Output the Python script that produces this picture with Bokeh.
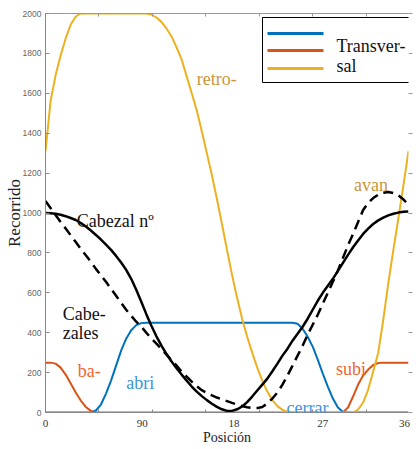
from bokeh.plotting import figure
from bokeh.models import (Range1d, LinearAxis, FixedTicker, Label, BoxAnnotation, Arrow)
from bokeh.embed import file_html
from bokeh.resources import INLINE

# ---- data ----
angle_deg = list(range(0, 365, 5))

transversal = [0, 0, 0, 0, 0, 0, 0, 0, 0, 0,
               10, 40, 95, 160, 235, 310, 370, 412, 438, 448,
               450, 450, 450, 450, 450, 450, 450, 450, 450, 450,
               450, 450, 450, 450, 450, 450, 450, 450, 450, 450,
               450, 450, 450, 450, 450, 450, 450, 450, 450, 450,
               445, 420, 380, 330, 265, 195, 130, 70, 25, 3,
               0, 0, 0, 0, 0, 0, 0, 0, 0, 0,
               0, 0, 0]

vertical = [250, 250, 245, 225, 190, 145, 100, 60, 28, 8,
            0, 0, 0, 0, 0, 0, 0, 0, 0, 0,
            0, 0, 0, 0, 0, 0, 0, 0, 0, 0,
            0, 0, 0, 0, 0, 0, 0, 0, 0, 0,
            0, 0, 0, 0, 0, 0, 0, 0, 0, 0,
            0, 0, 0, 0, 0, 0, 0, 0, 0, 0,
            25, 80, 140, 185, 215, 238, 248, 250, 250, 250,
            250, 250, 250]

longitudinal = [1310, 1560, 1690, 1790, 1875, 1945, 1985, 2000, 2000, 2000,
                2000, 2000, 2000, 2000, 2000, 2000, 2000, 2000, 2000, 2000,
                2000, 1995, 1980, 1958, 1925, 1885, 1830, 1770, 1685, 1600,
                1515, 1410, 1300, 1190, 1070, 945, 815, 690, 575, 470,
                380, 300, 225, 160, 105, 62, 32, 13, 4, 0,
                0, 0, 0, 0, 0, 0, 0, 0, 0, 0,
                0, 0, 15, 50, 115, 205, 300, 465, 650, 815,
                975, 1140, 1310]

cabezal = [1000, 999, 996, 991, 984, 975, 965, 950, 932, 912,
           890, 867, 842, 815, 785, 752, 715, 670, 615, 555,
           493, 435, 382, 335, 293, 256, 222, 190, 160, 130,
           105, 82, 62, 44, 28, 16, 8, 8, 16, 30,
           52, 80, 110, 140, 170, 207, 245, 285, 320, 360,
           395, 430, 470, 515, 560, 600, 635, 670, 710, 750,
           790, 828, 862, 895, 922, 945, 963, 977, 988, 996,
           1002, 1006, 1008]

cabezales = [1060, 1025, 990, 955, 922, 888, 855, 820, 788, 755,
             720, 688, 655, 620, 585, 550, 515, 485, 455, 430,
             400, 370, 345, 318, 290, 262, 235, 205, 180, 155,
             132, 112, 98, 86, 75, 66, 57, 48, 40, 32,
             26, 22, 22, 28, 45, 70, 100, 140, 185, 235,
             285, 335, 390, 440, 490, 545, 600, 655, 712, 775,
             838, 895, 955, 1015, 1050, 1075, 1092, 1102, 1105, 1100,
             1088, 1068, 1040]

x_tick_pos = [0, 96, 187, 275, 356]
x_tick_labels = ["0", "90", "18", "27", "36"]
frame_ticks = [53, 106, 159, 212, 265, 318]
y_ticks = [0, 200, 400, 600, 800, 1000, 1200, 1400, 1600, 1800, 2000]

BLUE = "#0072BD"
RED = "#D95319"
YELLOW = "#EDB120"
SERIF = "Liberation Serif"

p = figure(width=416, height=449, x_range=Range1d(0, 360), y_range=Range1d(0, 2000),
           output_backend="svg", toolbar_location=None, title=None,
           min_border_left=45, min_border_right=8, min_border_top=13, min_border_bottom=37)
p.xgrid.visible = False
p.ygrid.visible = False
p.outline_line_color = None
p.background_fill_color = "white"
p.border_fill_color = "white"

xa = p.xaxis[0]
xa.ticker = FixedTicker(ticks=x_tick_pos, minor_ticks=frame_ticks)
xa.major_label_overrides = dict(zip(x_tick_pos, x_tick_labels))
xa.major_tick_line_color = None
xa.major_tick_in = 0
xa.major_tick_out = 0
xa.minor_tick_in = 3
xa.minor_tick_out = 0
xa.minor_tick_line_color = "#888888"
xa.axis_line_color = "#888888"
xa.major_label_text_font = SERIF
xa.major_label_text_font_size = "11px"
xa.major_label_text_color = "#333333"
xa.major_label_standoff = 7
xa.axis_label = "Posición"
xa.axis_label_standoff = 0
xa.axis_label_text_font = SERIF
xa.axis_label_text_font_size = "14px"
xa.axis_label_text_font_style = "normal"
xa.axis_label_text_color = "#222222"

ya = p.yaxis[0]
ya.ticker = FixedTicker(ticks=y_ticks)
ya.major_tick_in = 4
ya.major_tick_out = 0
ya.minor_tick_line_color = None
ya.major_tick_line_color = "#888888"
ya.axis_line_color = "#888888"
ya.major_label_standoff = 4
ya.major_label_text_font = "Liberation Sans"
ya.major_label_text_font_size = "8.5px"
ya.major_label_text_color = "#666666"
ya.axis_label = "Recorrido"
ya.axis_label_standoff = -4
ya.axis_label_text_font = SERIF
ya.axis_label_text_font_size = "17px"
ya.axis_label_text_font_style = "normal"
ya.axis_label_text_color = "#222222"

top = LinearAxis(ticker=FixedTicker(ticks=[], minor_ticks=frame_ticks),
                 minor_tick_in=3, minor_tick_out=0, major_tick_in=0, major_tick_out=0,
                 axis_line_color="#999999", minor_tick_line_color="#999999",
                 major_label_standoff=0)
p.add_layout(top, "above")

right = LinearAxis(ticker=FixedTicker(ticks=[], minor_ticks=y_ticks),
                   minor_tick_in=0, minor_tick_out=4, major_tick_in=0, major_tick_out=0,
                   axis_line_color=None, minor_tick_line_color="#999999",
                   major_label_standoff=0)
p.add_layout(right, "right")

p.line(angle_deg, transversal, line_color=BLUE, line_width=2)
p.line(angle_deg, vertical, line_color=RED, line_width=2)
p.line(angle_deg, longitudinal, line_color=YELLOW, line_width=2)
p.line(angle_deg, cabezal, line_color="black", line_width=2.5)
p.line(angle_deg, cabezales, line_color="black", line_width=2.5, line_dash="10 6")

# legend box (screen units relative to the plot frame)
p.add_layout(BoxAnnotation(left=217, right=369, top=395, bottom=330,
                           left_units="screen", right_units="screen",
                           top_units="screen", bottom_units="screen",
                           fill_color="white", fill_alpha=1.0,
                           line_color="black", line_alpha=1.0, line_width=1))
for col, ys in ((BLUE, 379), (RED, 362), (YELLOW, 344)):
    p.add_layout(Arrow(end=None, x_start=222, x_end=278, y_start=ys, y_end=ys,
                       start_units="screen", end_units="screen",
                       line_color=col, line_width=3))
for txt, ys in (("Transver-", 367), ("sal", 347)):
    p.add_layout(Label(x=291, y=ys, x_units="screen", y_units="screen", text=txt,
                       text_font=SERIF, text_font_size="18px", text_color="#111111",
                       text_baseline="alphabetic", text_align="left"))


def note(txt, x, y, color, size="18px"):
    p.add_layout(Label(x=x, y=y, text=txt, text_color=color, text_font=SERIF,
                       text_font_size=size, text_baseline="alphabetic", text_align="left"))


GOLD = "#C9963A"
ORANGE = "#EE6430"
LBLUE = "#3D94D8"
note("retro-", 150, 1674, GOLD)
note("avan", 306, 1138, GOLD)
note("Cabezal nº", 31, 962, "#111111")
note("Cabe-", 17, 496, "#111111")
note("zales", 17, 396, "#111111")
note("ba-", 32, 210, ORANGE)
note("abri", 80, 150, LBLUE)
note("cerrar", 239, 25, LBLUE)
note("subi", 288, 220, ORANGE)

open("out.html", "w").write(file_html(p, INLINE))
